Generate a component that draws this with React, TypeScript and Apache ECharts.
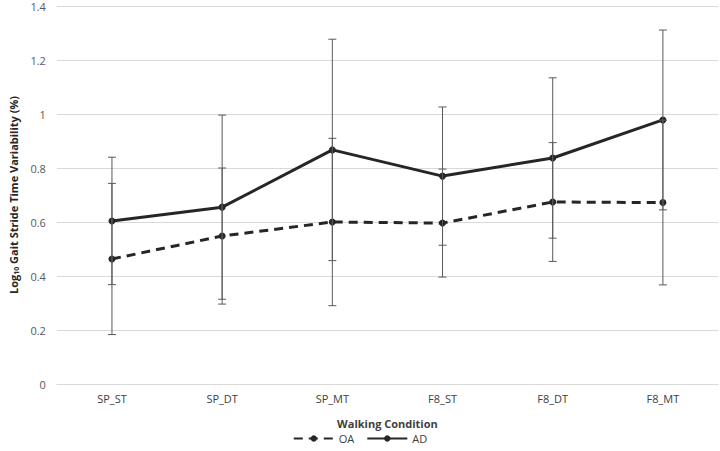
import React, { useEffect, useRef } from "react";
import * as echarts from "echarts";

const categories = ["SP_ST", "SP_DT", "SP_MT", "F8_ST", "F8_DT", "F8_MT"];
const oaMeans = [0.463, 0.548, 0.6, 0.596, 0.674, 0.672];
const oaSD = [0.28, 0.252, 0.31, 0.2, 0.22, 0.305];
const adMeans = [0.604, 0.655, 0.867, 0.77, 0.837, 0.978];
const adSD = [0.236, 0.341, 0.41, 0.256, 0.297, 0.333];
const yTicks = [0, 0.2, 0.4, 0.6, 0.8, 1, 1.2, 1.4];

function errData(means: number[], sds: number[]) {
  return means.map((m, i) => [i, m - sds[i], m + sds[i]]);
}

function renderErr(params: any, api: any) {
  const x = api.value(0);
  const lo = api.coord([x, api.value(1)]);
  const hi = api.coord([x, api.value(2)]);
  const cw = 4;
  const style = { stroke: "#595959", lineWidth: 1 };
  return {
    type: "group",
    children: [
      { type: "line", shape: { x1: lo[0], y1: lo[1], x2: hi[0], y2: hi[1] }, style },
      { type: "line", shape: { x1: lo[0] - cw, y1: lo[1], x2: lo[0] + cw, y2: lo[1] }, style },
      { type: "line", shape: { x1: hi[0] - cw, y1: hi[1], x2: hi[0] + cw, y2: hi[1] }, style },
    ],
  };
}

export default function App() {
  const ref = useRef<HTMLDivElement>(null);
  useEffect(() => {
    const chart = echarts.init(ref.current!, null, { renderer: "svg" });
    const font = "'Open Sans', 'Liberation Sans', sans-serif";
    chart.setOption({
      animation: false,
      textStyle: { fontFamily: font },
      grid: { left: 53, right: 2, top: 6, bottom: 67 },
      legend: {
        data: ["OA", "AD"],
        bottom: 2,
        left: "center",
        itemWidth: 40,
        itemHeight: 8,
        itemGap: 12,
        textStyle: { color: "#404040", fontSize: 11, fontFamily: font },
      },
      xAxis: {
        type: "category",
        data: categories,
        boundaryGap: true,
        axisLine: { show: true, lineStyle: { color: "#d9d9d9", width: 1 } },
        axisTick: { show: false },
        axisLabel: { color: "#404040", fontSize: 11, margin: 9, fontFamily: font },
        name: "Walking Condition",
        nameLocation: "middle",
        nameGap: 34,
        nameTextStyle: { color: "#404040", fontSize: 11, fontWeight: "bold", fontFamily: font },
      },
      yAxis: {
        type: "value",
        min: 0,
        max: 1.4,
        interval: 0.2,
        axisLine: { show: false },
        axisTick: { show: false },
        splitLine: { lineStyle: { color: "#d9d9d9", width: 1 } },
        axisLabel: {
          color: "#595959",
          fontSize: 11,
          margin: 11,
          fontFamily: font,
          formatter: (v: number) => {
            const t = yTicks.find((k) => Math.abs(k - v) < 1e-6);
            return String(t !== undefined ? t : v);
          },
        },
        name: "{a|Log}{s|10}{a| Gait Stride Time Variability (%)}",
        nameLocation: "middle",
        nameGap: 34,
        nameTextStyle: {
          rich: {
            a: { fontSize: 11, fontWeight: "bold", color: "#262626", fontFamily: font },
            s: { fontSize: 7, fontWeight: "bold", color: "#262626", fontFamily: font, verticalAlign: "bottom", padding: [5, 0, 0, 0] },
          },
        },
      },
      series: [
        {
          name: "OA",
          type: "line",
          data: oaMeans,
          symbol: "circle",
          symbolSize: 7,
          itemStyle: { color: "#262626" },
          lineStyle: { color: "#262626", width: 3, type: [9, 6] },
          z: 3,
        },
        {
          name: "AD",
          type: "line",
          data: adMeans,
          symbol: "circle",
          symbolSize: 7,
          itemStyle: { color: "#262626" },
          lineStyle: { color: "#262626", width: 3 },
          z: 3,
        },
        {
          type: "custom",
          name: "OA err",
          data: errData(oaMeans, oaSD),
          renderItem: renderErr,
          z: 4,
          silent: true,
        },
        {
          type: "custom",
          name: "AD err",
          data: errData(adMeans, adSD),
          renderItem: renderErr,
          z: 4,
          silent: true,
        },
      ],
    });
    return () => chart.dispose();
  }, []);
  return (
    <div
      ref={ref}
      style={{ position: "fixed", left: 0, top: 0, width: 720, height: 451, background: "#fff" }}
    />
  );
}
